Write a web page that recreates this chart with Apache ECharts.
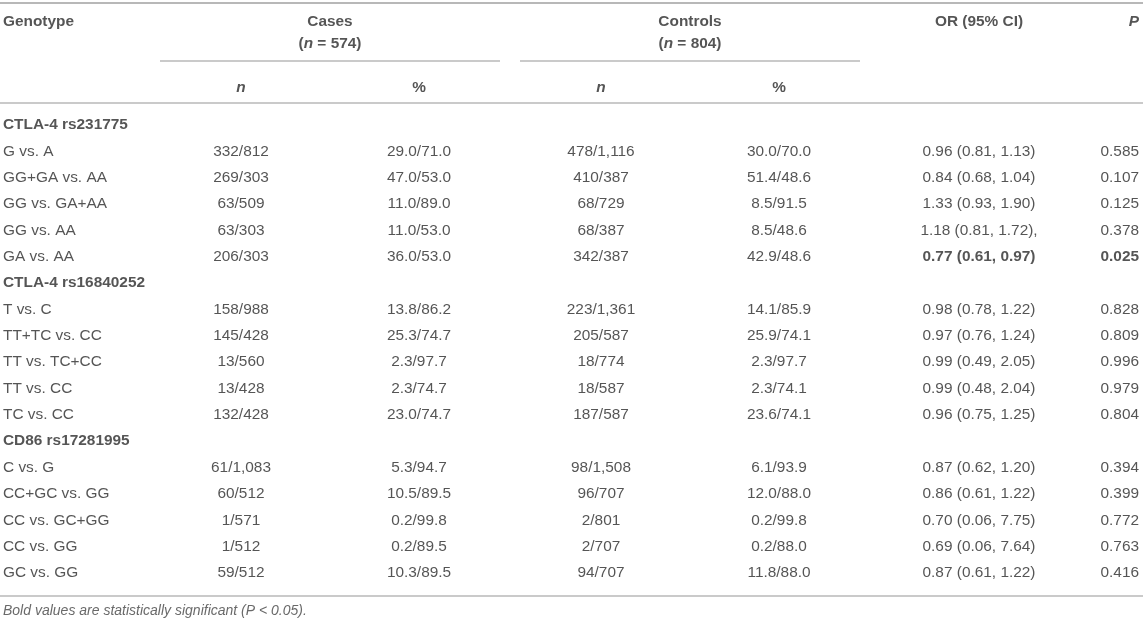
<!DOCTYPE html>
<html>
<head>
<meta charset="utf-8">
<script src="https://cdn.jsdelivr.net/npm/echarts@6/dist/echarts.min.js"></script>
<style>
  html, body { margin: 0; padding: 0; background: #fff; }
  #main { width: 1143px; height: 622px; }
</style>
</head>
<body>
<div id="main"></div>
<script>
// table content
var sections = ['CTLA-4 rs231775', 'CTLA-4 rs16840252', 'CD86 rs17281995'];
var comparisons = [
  ['G vs. A', 'GG+GA vs. AA', 'GG vs. GA+AA', 'GG vs. AA', 'GA vs. AA'],
  ['T vs. C', 'TT+TC vs. CC', 'TT vs. TC+CC', 'TT vs. CC', 'TC vs. CC'],
  ['C vs. G', 'CC+GC vs. GG', 'CC vs. GC+GG', 'CC vs. GG', 'GC vs. GG']
];
var casesN = ['332/812', '269/303', '63/509', '63/303', '206/303',
  '158/988', '145/428', '13/560', '13/428', '132/428',
  '61/1,083', '60/512', '1/571', '1/512', '59/512'];
var casesPct = ['29.0/71.0', '47.0/53.0', '11.0/89.0', '11.0/53.0', '36.0/53.0',
  '13.8/86.2', '25.3/74.7', '2.3/97.7', '2.3/74.7', '23.0/74.7',
  '5.3/94.7', '10.5/89.5', '0.2/99.8', '0.2/89.5', '10.3/89.5'];
var controlsN = ['478/1,116', '410/387', '68/729', '68/387', '342/387',
  '223/1,361', '205/587', '18/774', '18/587', '187/587',
  '98/1,508', '96/707', '2/801', '2/707', '94/707'];
var controlsPct = ['30.0/70.0', '51.4/48.6', '8.5/91.5', '8.5/48.6', '42.9/48.6',
  '14.1/85.9', '25.9/74.1', '2.3/97.7', '2.3/74.1', '23.6/74.1',
  '6.1/93.9', '12.0/88.0', '0.2/99.8', '0.2/88.0', '11.8/88.0'];
var orCI = ['0.96 (0.81, 1.13)', '0.84 (0.68, 1.04)', '1.33 (0.93, 1.90)', '1.18 (0.81, 1.72),', '0.77 (0.61, 0.97)',
  '0.98 (0.78, 1.22)', '0.97 (0.76, 1.24)', '0.99 (0.49, 2.05)', '0.99 (0.48, 2.04)', '0.96 (0.75, 1.25)',
  '0.87 (0.62, 1.20)', '0.86 (0.61, 1.22)', '0.70 (0.06, 7.75)', '0.69 (0.06, 7.64)', '0.87 (0.61, 1.22)'];
var pValues = ['0.585', '0.107', '0.125', '0.378', '0.025',
  '0.828', '0.809', '0.996', '0.979', '0.804',
  '0.394', '0.399', '0.772', '0.763', '0.416'];
var significant = [4]; // GA vs. AA
var footnote = 'Bold values are statistically significant (P < 0.05).';

// layout
var W = 1143, H = 622;
var FONT = '"Liberation Sans", Arial, Helvetica, sans-serif';
var FS = 15.4;
var TEXT = '#2a2a2a';
var RULE = '#b8b8b8';
var firstRowY = 125, rowStep = 26.35;

var columns = [
  { x: 241, align: 'center', values: casesN, boldSig: false },
  { x: 419, align: 'center', values: casesPct, boldSig: false },
  { x: 601, align: 'center', values: controlsN, boldSig: false },
  { x: 779, align: 'center', values: controlsPct, boldSig: false },
  { x: 979, align: 'center', values: orCI, boldSig: true },
  { x: 1139, align: 'right', values: pValues, boldSig: true }
];

var headers = [
  { x: 3, y: 22, text: 'Genotype', align: 'left' },
  { x: 330, y: 22, text: 'Cases', align: 'center' },
  { x: 330, y: 44, text: '({i|n} = 574)', align: 'center' },
  { x: 690, y: 22, text: 'Controls', align: 'center' },
  { x: 690, y: 44, text: '({i|n} = 804)', align: 'center' },
  { x: 979, y: 22, text: 'OR (95% CI)', align: 'center' },
  { x: 1139, y: 22, text: '{i|P}', align: 'right' },
  { x: 241, y: 88, text: '{i|n}', align: 'center' },
  { x: 419, y: 88, text: '%', align: 'center' },
  { x: 601, y: 88, text: '{i|n}', align: 'center' },
  { x: 779, y: 88, text: '%', align: 'center' }
];

// [x1, x2, y, width]
var rules = [
  [0, W, 3, 2],
  [160, 500, 61, 1.5],
  [520, 860, 61, 1.5],
  [0, W, 103, 1.5],
  [0, W, 596, 1.5]
];

// body rows: a heading row per section, then its comparisons
var rows = [];
var k = 0;
sections.forEach(function (s, si) {
  rows.push({ heading: s });
  comparisons[si].forEach(function (c) {
    rows.push({ label: c, idx: k });
    k++;
  });
});

var baseLabel = {
  show: true, position: 'inside', color: TEXT,
  fontFamily: FONT, fontSize: FS, verticalAlign: 'middle'
};

function textSeries(name, gridIdx, data) {
  return {
    name: name, type: 'scatter', xAxisIndex: gridIdx, yAxisIndex: gridIdx,
    symbolSize: 0, silent: true, data: data,
    label: baseLabel, emphasis: { disabled: true }
  };
}

var series = [];

// header texts
series.push(textSeries('header', 0, headers.map(function (h) {
  return {
    value: [h.x, h.y],
    label: {
      formatter: h.text, align: h.align, fontWeight: 'bold',
      rich: { i: { fontStyle: 'italic', fontWeight: 'bold', fontFamily: FONT, fontSize: FS, color: TEXT } }
    }
  };
})));

// footnote
series.push(textSeries('footnote', 0, [{
  value: [3, 611],
  label: { formatter: footnote, align: 'left', fontStyle: 'italic', fontSize: 14, color: '#444' }
}]));

// rules
series.push({
  type: 'custom', xAxisIndex: 0, yAxisIndex: 0, silent: true,
  data: rules,
  renderItem: function (params, api) {
    var a = api.coord([api.value(0), api.value(2)]);
    var b = api.coord([api.value(1), api.value(2)]);
    return {
      type: 'line',
      shape: { x1: a[0], y1: a[1], x2: b[0], y2: b[1] },
      style: { stroke: RULE, lineWidth: api.value(3) }
    };
  }
});

// genotype column
series.push(textSeries('genotype', 1, rows.map(function (r, i) {
  return {
    value: [3, i],
    label: {
      formatter: r.heading || r.label, align: 'left',
      fontWeight: r.heading ? 'bold' : 'normal'
    }
  };
})));

// data columns
columns.forEach(function (col, ci) {
  var data = [];
  rows.forEach(function (r, i) {
    if (r.heading) return;
    var bold = col.boldSig && significant.indexOf(r.idx) >= 0;
    data.push({
      value: [col.x, i],
      label: { formatter: col.values[r.idx], align: col.align, fontWeight: bold ? 'bold' : 'normal' }
    });
  });
  series.push(textSeries('col' + ci, 1, data));
});

var chart = echarts.init(document.getElementById('main'), null, { renderer: 'canvas' });
chart.setOption({
  backgroundColor: '#ffffff',
  animation: false,
  grid: [
    { left: 0, right: 0, top: 0, bottom: 0 },
    { left: 0, right: 0, top: firstRowY - rowStep / 2, height: rowStep * rows.length }
  ],
  xAxis: [
    { type: 'value', gridIndex: 0, min: 0, max: W, show: false },
    { type: 'value', gridIndex: 1, min: 0, max: W, show: false }
  ],
  yAxis: [
    { type: 'value', gridIndex: 0, min: 0, max: H, inverse: true, show: false },
    { type: 'category', gridIndex: 1, inverse: true, show: false,
      data: rows.map(function (r, i) { return String(i); }) }
  ],
  series: series
});
</script>
</body>
</html>
